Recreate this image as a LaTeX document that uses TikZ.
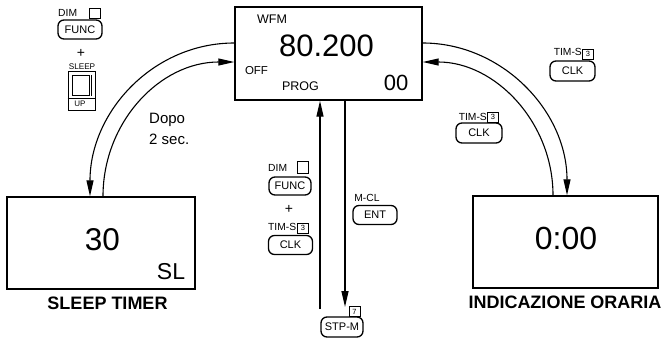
\documentclass[tikz,border=0pt]{standalone}
\usepackage{fontspec}
\setmainfont{Liberation Sans}
\usetikzlibrary{arrows.meta,calc}
\tikzset{
  disp/.style={draw, line width=1.4pt, inner sep=0pt},
  btn/.style={draw, line width=1.3pt, rounded corners=6pt, minimum width=44pt, minimum height=19pt, inner sep=0pt, font=\fontsize{11}{12}\selectfont},
  lbl/.style={inner sep=0pt, font=\fontsize{10.3}{12}\selectfont},
  numbox/.style={draw, line width=0.7pt, inner sep=0pt, minimum width=11pt, minimum height=10pt, font=\fontsize{7.5}{8}\selectfont},
  flow/.style={line width=1.1pt},
  tip/.style={-{Triangle[length=16pt,width=7pt]}},
  plus/.style={inner sep=0pt, font=\fontsize{14}{14}\selectfont},
}
\begin{document}
\begin{tikzpicture}[x=1pt,y=-1pt]
\useasboundingbox (0,0) rectangle (669,338);

% display boxes
\node[disp, minimum width=187pt, minimum height=93pt] (main) at (328.5,53.5) {};
\node[disp, minimum width=188pt, minimum height=92pt] (sleep) at (101,243) {};
\node[disp, minimum width=185pt, minimum height=92pt] (clock) at (565.5,242) {};

% main display texts
\node[inner sep=0pt, font=\fontsize{12.5}{13}\selectfont] (wfm) at (272,19.5) {WFM};
\node[inner sep=0pt, font=\fontsize{31}{32}\selectfont] (freq) at (326.5,46) {80.200};
\node[inner sep=0pt, font=\fontsize{11.5}{12}\selectfont] (off) at (256.5,70.5) {OFF};
\node[inner sep=0pt, font=\fontsize{12.5}{13}\selectfont] (prog) at (300.5,86.5) {PROG};
\node[inner sep=0pt, font=\fontsize{22}{22}\selectfont] (ch) at (396,82.5) {00};

% sleep display
\node[inner sep=0pt, font=\fontsize{31.5}{32}\selectfont] (thirty) at (102.5,239.5) {30};
\node[inner sep=0pt, font=\fontsize{23}{24}\selectfont] (sl) at (171,271.5) {SL};
\node[inner sep=0pt, font=\bfseries\fontsize{18}{19}\selectfont] (sleepcap) at (107.5,303) {SLEEP TIMER};

% clock display
\node[inner sep=0pt, font=\fontsize{32}{33}\selectfont] (time) at (566,238.5) {0:00};
\node[inner sep=0pt, font=\bfseries\fontsize{18}{19}\selectfont] (clockcap) at (565,302) {INDICAZIONE ORARIA};

% left arcs
\draw[flow,tip] (main.west |- 0,43) .. controls (153,43) and (90,112) .. (sleep.north -| 90,0);
\draw[flow,tip] (sleep.north -| 103,0) .. controls (103,122) and (160,62) .. (main.west |- 0,62);
% right arcs
\draw[flow,tip] (main.east |- 0,43) .. controls (502,43) and (567,111) .. (clock.north -| 567,0);
\draw[flow,tip] (clock.north -| 553,0) .. controls (553,122) and (495,62) .. (main.east |- 0,62);

% vertical lines
\coordinate (vL) at (320,309);
\coordinate (vR) at (345,307);
\draw[line width=1.3pt,tip] (vL) -- (vL |- main.south);
\draw[line width=1.3pt,tip] (main.south -| vR) -- (vR);

\node[inner sep=0pt, anchor=base west, font=\fontsize{15}{16}\selectfont] (dopo) at (149,123) {Dopo};
\node[inner sep=0pt, anchor=base west, font=\fontsize{15}{16}\selectfont] (sec) at (149,144) {2 sec.};

% top-left keys
\node[lbl, anchor=west] (dim1) at (58,12.5) {DIM};
\node[numbox] (dimbox1) at (95,13) {};
\node[btn] (func1) at (80,29.5) {FUNC};
\node[plus] (plus1) at (81,53) {+};
\node[inner sep=0pt, font=\fontsize{8.2}{9}\selectfont] (sleeplbl) at (82,67) {SLEEP};
\node[draw, line width=0.9pt, minimum width=27pt, minimum height=39pt, inner sep=0pt] (sw) at (81.5,90.5) {};
\draw[line width=0.8pt] (72.5,75) rectangle (89,95);
\draw[line width=0.8pt] (91,75) -- (91,96);
\draw[line width=0.8pt] (sw.west |- 0,98) -- (sw.east |- 0,98);
\node[inner sep=0pt, font=\fontsize{8}{9}\selectfont] (uplbl) at (80,104) {UP};

% middle keys
\node[lbl, anchor=west] (dim2) at (268,167.5) {DIM};
\node[numbox, minimum height=12pt] (dimbox2) at (302.5,167.5) {};
\node[btn, minimum width=42pt, minimum height=18pt] (func2) at (290,186) {FUNC};
\node[plus] (plus2) at (289,209) {+};
\node[lbl, anchor=west] (tims2) at (268,227) {TIM-S};
\node[numbox] (three2) at (303,228) {3};
\node[btn] (clk2) at (290.5,245) {CLK};
\node[lbl] (mcl) at (367,198) {M-CL};
\node[btn] (ent) at (375,215) {ENT};
\node[numbox] (seven) at (354.5,311.5) {7};
\node[btn, minimum width=42pt, minimum height=20pt] (stpm) at (342,327) {STP-M};

% right keys
\node[lbl, anchor=east] (tims3) at (582,52) {TIM-S};
\node[numbox] (three3) at (588,54) {3};
\node[btn, minimum width=45pt, minimum height=20pt] (clk3) at (572.5,71) {CLK};
\node[lbl, anchor=east] (tims4) at (487,116.5) {TIM-S};
\node[numbox] (three4) at (493,117) {3};
\node[btn, minimum width=46pt, minimum height=20pt] (clk4) at (479,133) {CLK};
\end{tikzpicture}
\end{document}
